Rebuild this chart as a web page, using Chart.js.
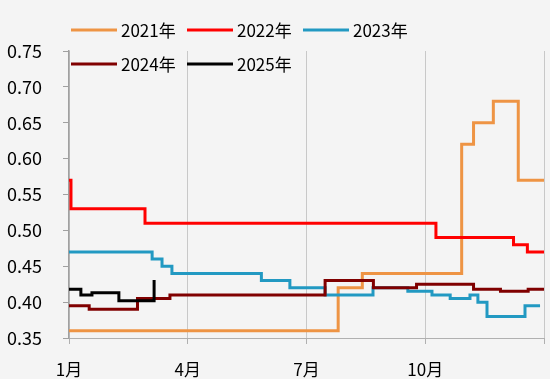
<!DOCTYPE html>
<html>
<head>
<meta charset="utf-8">
<script src="https://cdn.jsdelivr.net/npm/chart.js@4"></script>
<style>
  html, body { margin: 0; padding: 0; background: #f4f4f4; }
  canvas { display: block; }
</style>
</head>
<body>
<canvas id="c" width="550" height="379"></canvas>
<script>
// x = month offset from 1月 (0 = 1月1日, 12 = year end); each point = value from that x onward
const seriesNames = ['2021年', '2022年', '2023年', '2024年', '2025年'];
const seriesColors = ['#EE9444', '#FF0000', '#2299C2', '#800000', '#000000'];
const xTickLabels = ['1月', '4月', '7月', '10月', ''];
const yTicks = [0.35, 0.40, 0.45, 0.50, 0.55, 0.60, 0.65, 0.70, 0.75];

const s2021 = [[0, 0.36], [6.80, 0.42], [7.41, 0.44], [9.92, 0.62], [10.22, 0.65], [10.72, 0.68], [11.35, 0.57], [12, 0.57]];
const s2022 = [[0, 0.57], [0.05, 0.53], [1.92, 0.51], [9.27, 0.49], [11.23, 0.48], [11.58, 0.47], [12, 0.47]];
const s2023 = [[0, 0.47], [2.10, 0.46], [2.35, 0.45], [2.60, 0.44], [4.86, 0.43], [5.58, 0.42], [6.47, 0.41], [7.68, 0.42], [8.56, 0.415], [9.17, 0.41], [9.63, 0.405], [10.13, 0.41], [10.33, 0.40], [10.56, 0.38], [11.52, 0.395], [11.90, 0.395]];
const s2024 = [[0, 0.395], [0.51, 0.39], [1.73, 0.405], [2.55, 0.41], [6.47, 0.43], [7.69, 0.42], [8.78, 0.425], [10.22, 0.418], [10.90, 0.415], [11.60, 0.418], [12, 0.418]];
const s2025 = [[0, 0.418], [0.30, 0.41], [0.58, 0.413], [1.26, 0.402], [2.15, 0.431]];

const allSeries = [s2021, s2022, s2023, s2024, s2025];
const FONT = '"Noto Sans CJK SC", "Noto Sans", sans-serif';

const datasets = allSeries.map((s, i) => ({
  label: seriesNames[i],
  data: s.map(p => ({ x: p[0], y: p[1] })),
  borderColor: seriesColors[i],
  backgroundColor: seriesColors[i],
  borderWidth: 3,
  pointRadius: 0,
  stepped: true,
  fill: false,
  order: allSeries.length - i
}));

const legendPlugin = {
  id: 'customLegend',
  afterDraw(chart) {
    const ctx = chart.ctx;
    ctx.save();
    ctx.font = '17px ' + FONT;
    ctx.textBaseline = 'middle';
    ctx.textAlign = 'left';
    const perRow = 3;
    seriesNames.forEach((name, i) => {
      const col = i % perRow, row = Math.floor(i / perRow);
      const x0 = 71 + col * 116;
      const y0 = 30 + row * 34;
      ctx.strokeStyle = seriesColors[i];
      ctx.lineWidth = 3;
      ctx.beginPath();
      ctx.moveTo(x0, y0);
      ctx.lineTo(x0 + 46, y0);
      ctx.stroke();
      ctx.fillStyle = '#000';
      ctx.fillText(name, x0 + 50, y0 + 1);
    });
    ctx.restore();
  }
};

new Chart(document.getElementById('c'), {
  type: 'line',
  data: { datasets },
  plugins: [legendPlugin],
  options: {
    responsive: false,
    animation: false,
    layout: { padding: { top: 51, right: 6, left: 0, bottom: 0 } },
    plugins: { legend: { display: false }, tooltip: { enabled: false } },
    scales: {
      x: {
        type: 'linear',
        min: 0,
        max: 12,
        afterFit(scale) { scale.height = 41; scale.paddingLeft = 0; scale.paddingRight = 0; },
        afterBuildTicks(scale) { scale.ticks = [0, 3, 6, 9, 12].map(v => ({ value: v })); },
        ticks: {
          padding: 15,
          color: '#000',
          font: { family: FONT, size: 17 },
          maxRotation: 0,
          autoSkip: false,
          callback: (v, idx) => xTickLabels[idx]
        },
        grid: { color: '#c8c8c8', lineWidth: 1, drawTicks: true, tickLength: 6, tickColor: '#b0b0b0' },
        border: { display: true, color: '#b0b0b0', width: 1 }
      },
      y: {
        min: 0.35,
        max: 0.75,
        afterFit(scale) { scale.width = 69; scale.paddingTop = 0; scale.paddingBottom = 0; },
        afterBuildTicks(scale) { scale.ticks = yTicks.map(v => ({ value: v })); },
        ticks: {
          padding: 21,
          color: '#000',
          font: { family: FONT, size: 18 },
          callback: v => Number(v).toFixed(2)
        },
        grid: { drawOnChartArea: false, drawTicks: true, tickLength: 6, tickColor: '#a0a0a0' },
        border: { display: true, color: '#a0a0a0', width: 1.5 }
      }
    }
  }
});
</script>
</body>
</html>
